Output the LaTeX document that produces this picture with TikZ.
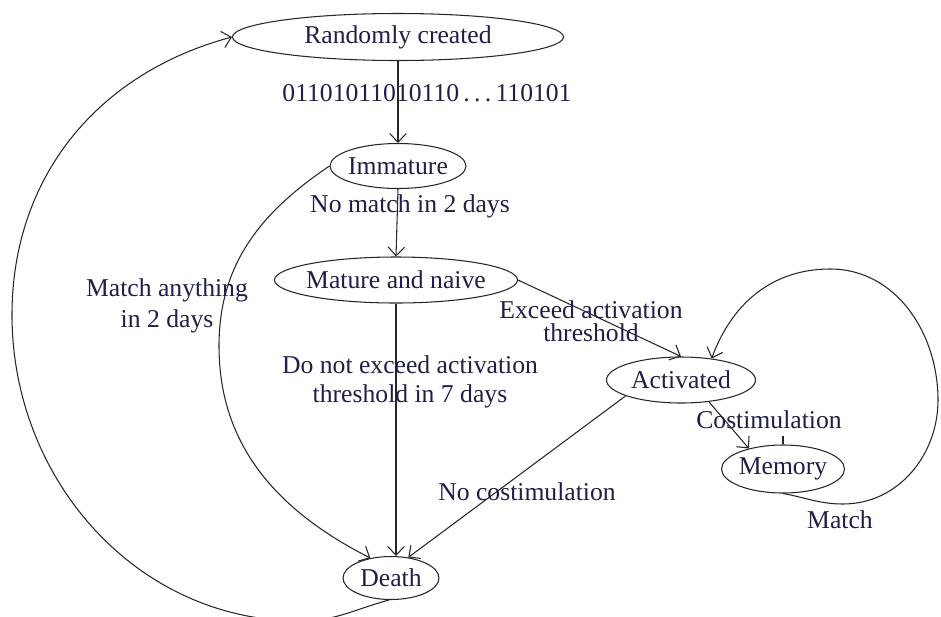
\documentclass[tikz,border=0pt]{standalone}
\usepackage{fontspec}
\setmainfont{Liberation Serif}
\usetikzlibrary{shapes.geometric,arrows.meta}
\definecolor{inkline}{HTML}{262626}
\definecolor{inktext}{HTML}{1F1F48}
\begin{document}
\begin{tikzpicture}[
  >={Straight Barb[length=5pt,width=9.5pt]},
  every node/.style={font=\fontsize{14.6}{17}\selectfont, text=inktext},
  state/.style={ellipse, draw=inkline, line width=0.6pt, inner xsep=-6pt, inner ysep=0pt},
  link/.style={draw=inkline, line width=0.6pt, ->},
  lbl/.style={inner sep=0pt, align=center}
]
\useasboundingbox (0,0) rectangle (18.82,-12.32);
\clip (0,0) rectangle (18.82,-12.32);

% states
\node[state, minimum width=6.62cm, minimum height=0.94cm] (rc)    at (7.96,-0.74)  {Randomly created};
\node[state, minimum width=2.72cm, minimum height=0.90cm] (imm)   at (7.96,-3.32)  {Immature};
\node[state, minimum width=4.86cm, minimum height=0.92cm] (mat)   at (7.92,-5.60)  {Mature and naive};
\node[state, minimum width=2.98cm, minimum height=0.92cm] (act)   at (13.62,-7.60) {Activated};
\node[state, minimum width=2.46cm, minimum height=0.96cm] (mem)   at (15.66,-9.38) {Memory};
\node[state, minimum width=1.92cm, minimum height=0.86cm] (death) at (7.82,-11.56) {Death};

% helper points for the curved transitions
\coordinate (innerleft) at (4.38,-6.92);
\coordinate (outerbot)  at (6.00,-12.42);
\coordinate (outerleft) at (0.24,-6.30);
\coordinate (loopbot)   at (16.86,-10.08);
\coordinate (loopright) at (18.76,-8.00);
\coordinate (looptop)   at (16.60,-5.38);

% straight transitions
\draw[link] (rc.south) -- (imm.north);
\draw[link] (imm.south) -- (mat.north);
\draw[link] (mat.south) -- (mat.south |- death.north);
\draw[link] (mat.east) -- (act.north);
\draw[link] (act.196) -- (death.50);
\draw[link] (act.-38) -- (mem.149);
\draw[draw=inkline, line width=0.6pt] (mem.north) -- ++(0,0.17);

% curved transitions
\draw[link] (imm.west) to[out=214,in=90] (innerleft) to[out=-90,in=153] (death.136);
\draw[link] (death.-95) to[out=195,in=0] (outerbot) to[out=180,in=-90] (outerleft)
            to[out=90,in=195] (rc.west);
\draw[link] (mem.south) to[out=-10,in=180] (loopbot) to[out=0,in=-90] (loopright)
            to[out=90,in=0] (looptop) to[out=180,in=70] (act.35);

% transition labels
\node[lbl] (lcode)   at (8.54,-1.86)  {01101011010110\,.\,.\,.\,110101};
\node[lbl] (lnomat)  at (8.20,-4.12)  {No match in 2 days};
\node[lbl] (lany)    at (3.34,-6.12)  {Match anything\\[1pt]in 2 days};
\node[lbl] (lexceed) at (11.82,-6.42) {Exceed activation\\[-4pt]threshold};
\node[lbl] (ldonot)  at (8.20,-7.64)  {Do not exceed activation\\[-0.5pt]threshold in 7 days};
\node[lbl] (lcostim) at (15.38,-8.40) {Costimulation};
\node[lbl] (lnocost) at (10.54,-9.84) {No costimulation};
\node[lbl] (lmatch)  at (16.80,-10.40) {Match};
\end{tikzpicture}
\end{document}
